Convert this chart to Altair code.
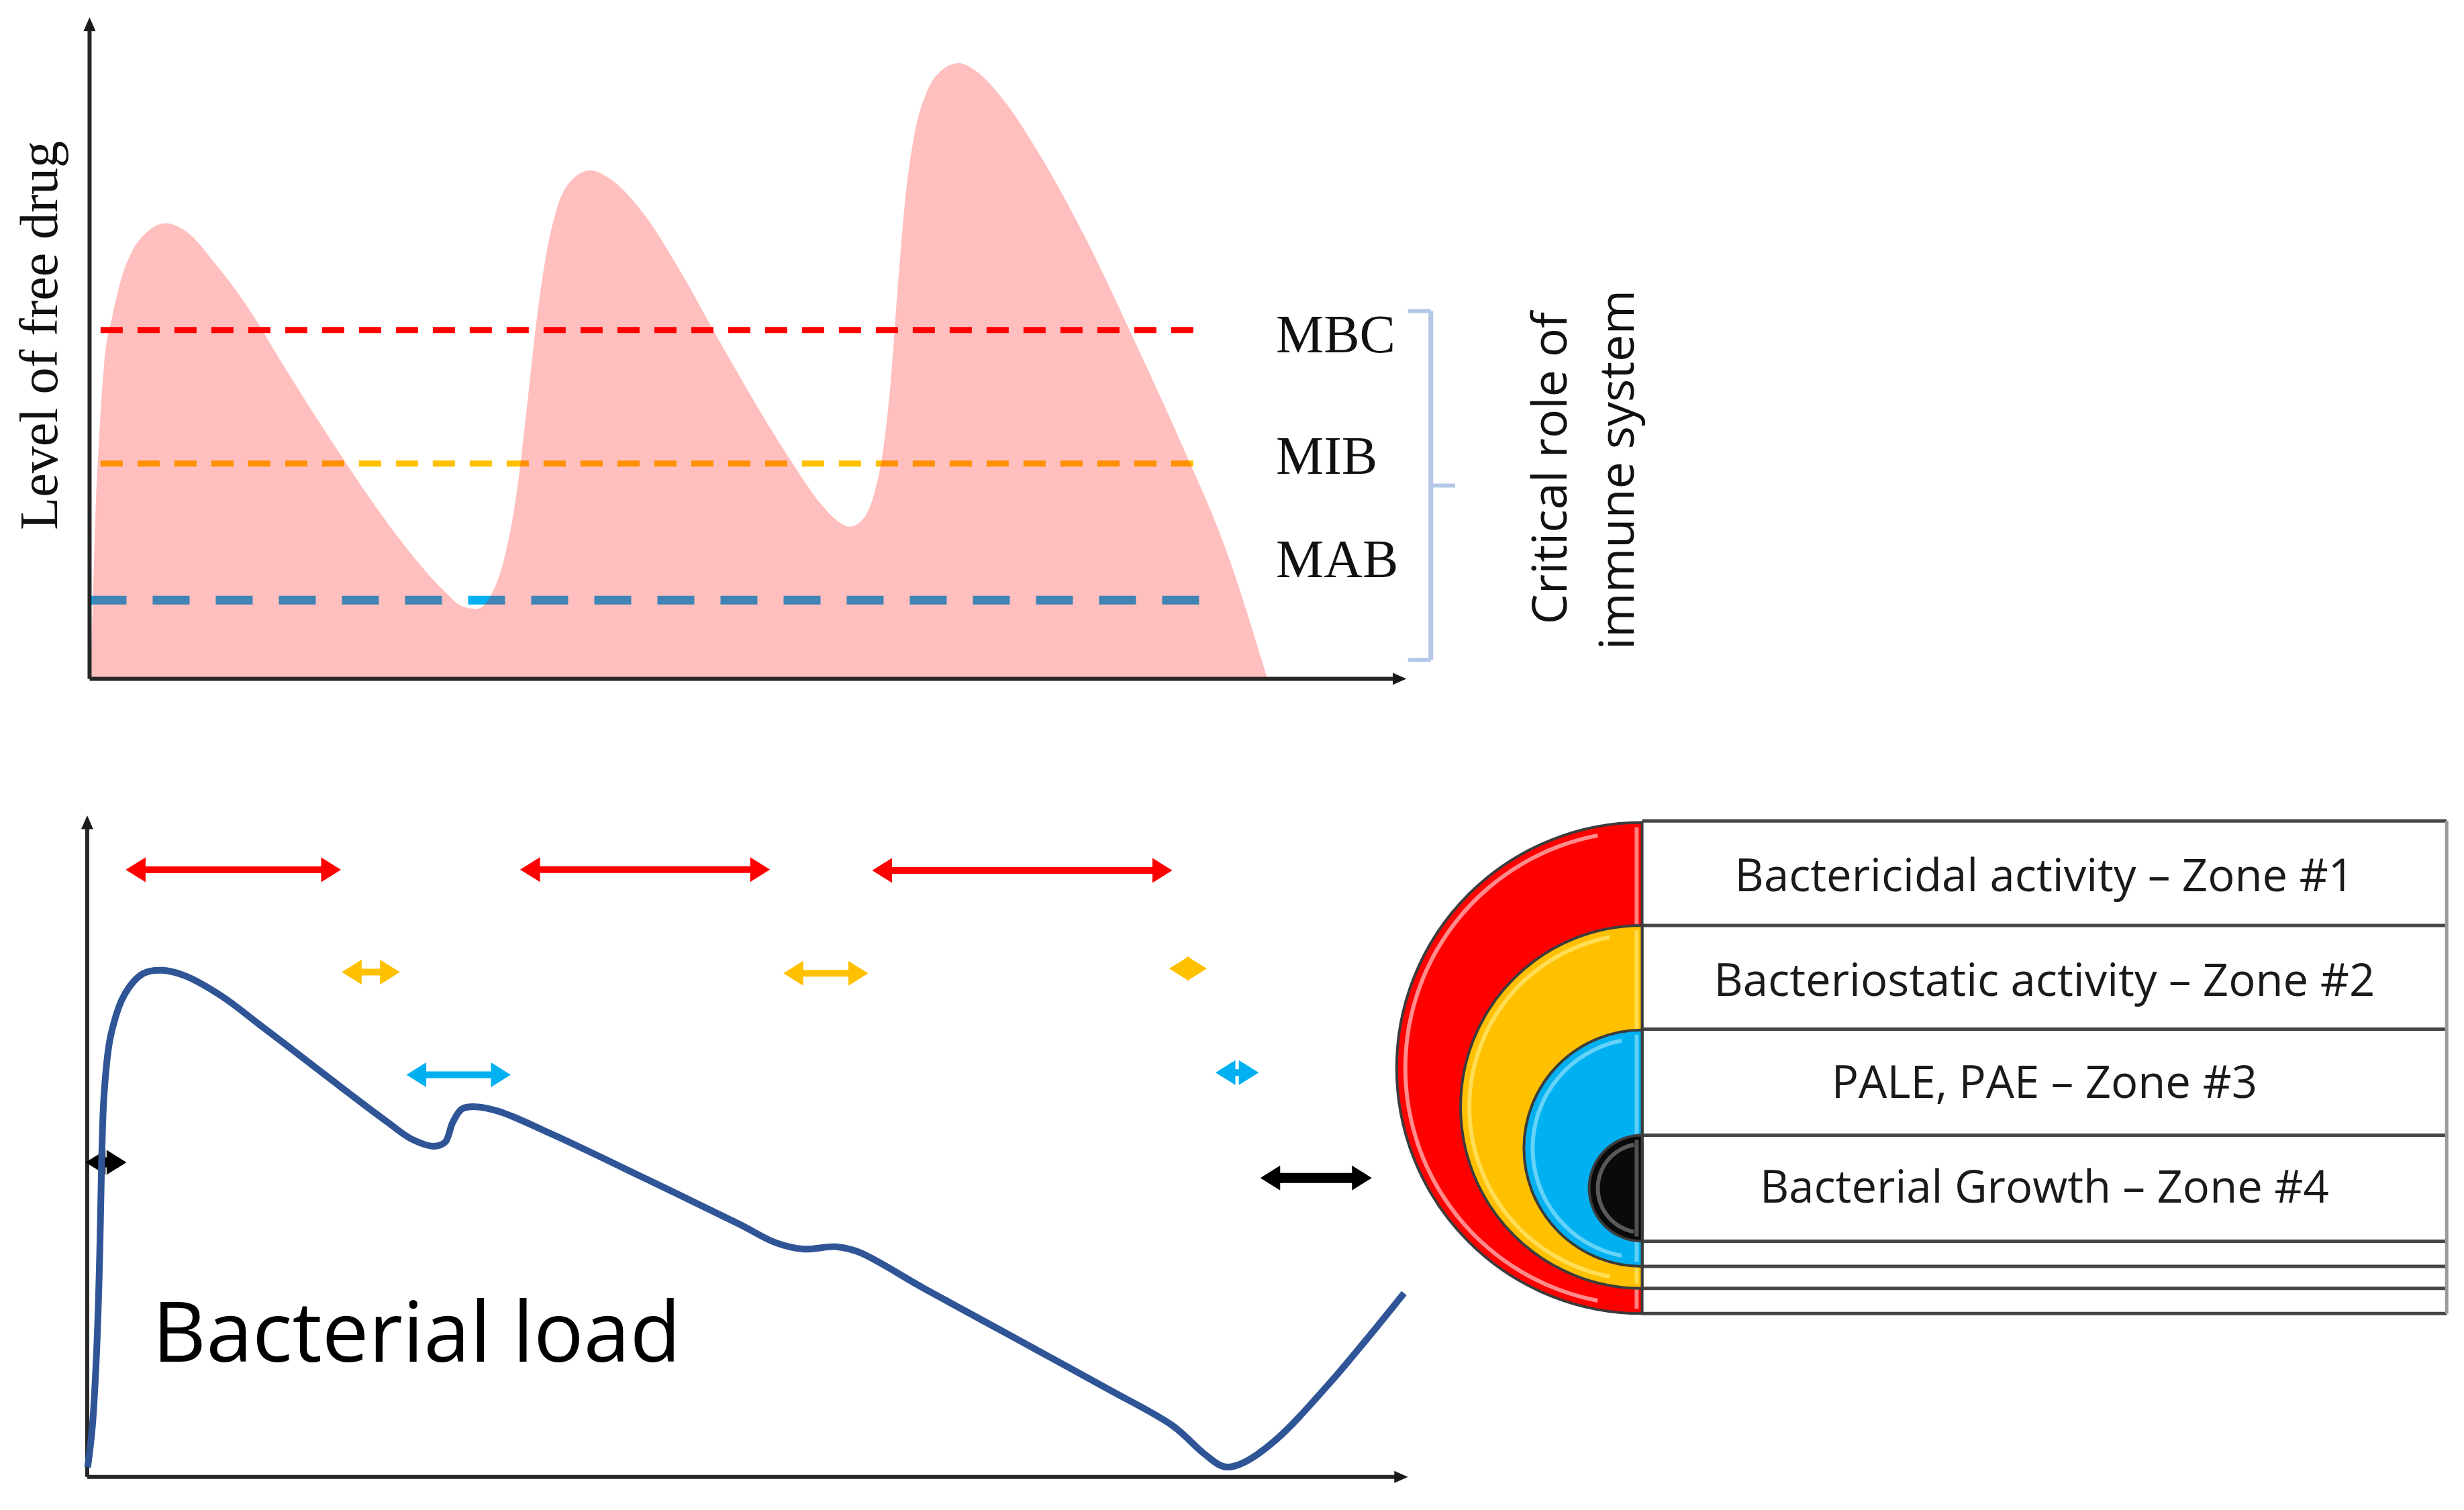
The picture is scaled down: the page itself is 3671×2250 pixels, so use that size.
import math
import altair as alt
import pandas as pd

# ---------------- geometry of the page (reference drawn at 1568 px wide) ----------
S = 3671 / 1568
W, H = 3650, 2225
xs = alt.Scale(domain=[8 / S, (8 + W) / S], nice=False, zero=False)
ys = alt.Scale(domain=[8 / S, (8 + H) / S], nice=False, zero=False, reverse=True)


def X(f):
    return alt.X(f, type="quantitative", scale=xs, axis=None)


def Y(f):
    return alt.Y(f, type="quantitative", scale=ys, axis=None)


# ---------------- data ----------------
# free drug concentration curve (top panel)
drug_x = [57.5, 59.0, 61.0, 63.0, 66.3, 71.3, 77.0, 84.0, 93.2, 105.2, 117.2, 138.2, 159.3,
          180.3, 210.4, 240.4, 264.4, 282.5, 294.5, 303.5, 312.5, 321.5, 329.3, 335.4, 340.8,
          346.8, 354.6, 363.6, 375.6, 387.6, 408.7, 432.7, 456.8, 480.8, 504.8, 522.9, 534.9,
          540.9, 548.1, 555.9, 561.9, 566.7, 571.0, 575.8, 581.8, 589.0, 598.0, 610.0, 622.0,
          637.1, 661.1, 691.1, 721.2, 751.3, 781.3, 806.5]
drug_y = [432.0, 385.0, 320.0, 280.0, 231.0, 202.0, 178.0, 160.0, 148.0, 142.1, 146.4, 169.3,
          198.0, 232.5, 279.8, 324.3, 355.9, 376.0, 386.0, 387.5, 378.8, 353.0, 310.0, 258.3,
          209.5, 166.5, 132.0, 114.8, 108.5, 113.4, 134.9, 172.2, 215.3, 256.9, 295.6, 321.4,
          332.9, 335.2, 331.5, 315.7, 287.0, 244.0, 186.6, 129.2, 86.1, 60.3, 45.9, 40.2, 45.9,
          61.7, 97.6, 152.1, 215.3, 281.3, 353.0, 432.0]
drug_base = 432.0

# thresholds
thr_names = ["MBC", "MIB", "MAB"]
thr_y = [210.0, 295.0, 382.0]
thr_x0 = [64.0, 64.0, 57.0]
thr_x1 = [766.0, 766.0, 772.0]
thr_color = ["#FF0000", "#FFC000", "#00B0F0"]
thr_dash = [[33, 22], [33, 22], [55, 39]]
thr_width = [9, 9, 13]
thr_label_x = [812.0, 812.0, 812.0]
thr_label_y = [224.3, 301.6, 367.3]

# bacterial load curve (bottom panel)
load_x = [55.8, 58.8, 61.7, 63.5, 64.7, 66.4, 70.5, 79.4, 91.1, 102.9, 117.6, 141.1, 165.0,
          195.0, 223.0, 247.0, 262.0, 276.3, 283.3, 288.0, 293.9, 302.7, 317.4, 352.7, 411.5,
          470.2, 493.8, 511.4, 532.0, 546.7, 587.8, 646.6, 705.4, 746.5, 766.0, 779.0, 790.0,
          811.2, 846.4, 893.5]
load_y = [933.9, 907.6, 855.0, 796.5, 738.0, 694.1, 659.0, 632.7, 619.6, 617.5, 621.0, 634.0,
          652.0, 675.0, 696.5, 714.5, 725.0, 729.5, 726.9, 714.6, 705.8, 704.4, 707.3, 722.5,
          750.5, 779.0, 791.0, 795.0, 793.5, 797.0, 819.9, 852.0, 884.2, 907.6, 925.0, 933.5,
          931.5, 917.0, 880.0, 823.0]

# double-headed activity arrows
arr_color = ["#FF0000", "#FF0000", "#FF0000", "#FFC000", "#FFC000", "#FFC000",
             "#00B0F0", "#00B0F0", "#000000", "#000000"]
arr_x0 = [80.0, 331.0, 555.0, 217.5, 498.5, 744.0, 258.6, 773.5, 54.5, 802.0]
arr_x1 = [217.0, 490.0, 746.0, 254.5, 552.5, 768.0, 325.0, 801.0, 80.5, 873.0]
arr_y = [553.6, 553.5, 554.0, 618.7, 619.5, 616.5, 684.0, 682.7, 739.8, 749.7]

# zone legend
zone_labels = ["Bactericidal activity \u2013 Zone #1", "Bacteriostatic activity \u2013 Zone #2",
               "PALE, PAE \u2013 Zone #3", "Bacterial Growth \u2013 Zone #4"]
zone_label_y = [567.3, 634.0, 698.6, 765.3]
zone_color = ["#FF0000", "#FFC000", "#00B0F0", "#0A0A0A"]
zone_gloss = ["#FFFFFF", "#FFF59A", "#B8F0FF", "#9A9A9A"]
zone_top = [523.5, 589.0, 655.5, 722.5]
zone_bottom = [836.0, 820.0, 806.0, 790.0]
table_lines_y = [522.5, 589.0, 655.0, 722.5, 790.0, 806.0, 820.0, 836.0]
table_x0, table_x1 = 1045.0, 1557.0

layers = []

# ---------------- top panel ----------------
for i in range(3):
    d = pd.DataFrame({"x": [thr_x0[i]], "x2": [thr_x1[i]], "y": [thr_y[i]]})
    layers.append(alt.Chart(d).mark_rule(color=thr_color[i], strokeDash=thr_dash[i],
                                         strokeWidth=thr_width[i], strokeCap="butt")
                  .encode(x=X("x"), x2=alt.X2("x2"), y=Y("y")))

drug = pd.DataFrame({"x": drug_x, "y": drug_y, "base": [drug_base] * len(drug_x)})
layers.append(alt.Chart(drug).mark_area(color="#FF0000", opacity=0.25, interpolate="monotone")
              .encode(x=X("x"), y=Y("y"), y2=alt.Y2("base")))

# axes (both panels)
ax_v = pd.DataFrame({"x": [57.0, 55.5], "y": [432.0, 940.0], "y2": [15.0, 524.0]})
ax_h = pd.DataFrame({"x": [57.0, 55.5], "x2": [889.0, 890.0], "y": [432.0, 940.0]})
layers.append(alt.Chart(ax_v).mark_rule(color="#262626", strokeWidth=6)
              .encode(x=X("x"), y=Y("y"), y2=alt.Y2("y2")))
layers.append(alt.Chart(ax_h).mark_rule(color="#262626", strokeWidth=6)
              .encode(x=X("x"), x2=alt.X2("x2"), y=Y("y")))
tip_up = pd.DataFrame({"x": [57.0, 55.5], "y": [11.0, 519.0]})
tip_rt = pd.DataFrame({"x": [895.0, 896.0], "y": [432.0, 940.0]})
layers.append(alt.Chart(tip_up).mark_point(shape="M0,-1L0.75,0.7L-0.75,0.7Z", size=576,
                                           filled=True, opacity=1, color="#1A1A1A", yOffset=12)
              .encode(x=X("x"), y=Y("y")))
layers.append(alt.Chart(tip_rt).mark_point(shape="M1,0L-0.7,-0.75L-0.7,0.75Z", size=576,
                                           filled=True, opacity=1, color="#1A1A1A", xOffset=-12)
              .encode(x=X("x"), y=Y("y")))

ylab = pd.DataFrame({"x": [36.5], "y": [213.5], "t": ["Level of free drug"]})
layers.append(alt.Chart(ylab).mark_text(angle=270, font="Liberation Serif", fontSize=80,
                                        align="center", baseline="alphabetic", color="#111111")
              .encode(x=X("x"), y=Y("y"), text="t:N"))

thr_lab = pd.DataFrame({"x": thr_label_x, "y": thr_label_y, "t": thr_names})
layers.append(alt.Chart(thr_lab).mark_text(font="Liberation Serif", fontSize=80, align="left",
                                           baseline="alphabetic", color="#111111")
              .encode(x=X("x"), y=Y("y"), text="t:N"))

# bracket
br_v = pd.DataFrame({"x": [910.5], "y": [198.0], "y2": [420.0]})
br_h = pd.DataFrame({"x": [896.0, 896.0, 910.5], "x2": [910.5, 910.5, 926.0],
                     "y": [198.0, 420.0, 309.0]})
layers.append(alt.Chart(br_v).mark_rule(color="#B4C7E7", strokeWidth=7)
              .encode(x=X("x"), y=Y("y"), y2=alt.Y2("y2")))
layers.append(alt.Chart(br_h).mark_rule(color="#B4C7E7", strokeWidth=6)
              .encode(x=X("x"), x2=alt.X2("x2"), y=Y("y")))

crit = pd.DataFrame({"x": [997.0, 1039.5], "y": [298.0, 299.0],
                     "t": ["Critical role of", "immune system"]})
layers.append(alt.Chart(crit).mark_text(angle=270, font="Open Sans", fontSize=72,
                                        align="center", baseline="alphabetic", color="#111111")
              .encode(x=X("x"), y=Y("y"), text="t:N"))

# ---------------- bottom panel ----------------
arr = pd.DataFrame({"x0": arr_x0, "x1": arr_x1, "y": arr_y, "c": arr_color})
arr["s0"] = arr["x0"] + 12 / S
arr["s1"] = arr["x1"] - 12 / S
arr["w"] = [15 if c == "#000000" else 10 for c in arr_color]
layers.append(alt.Chart(arr).mark_rule(strokeCap="butt")
              .encode(x=X("s0"), x2=alt.X2("s1"), y=Y("y"),
                      color=alt.Color("c:N", scale=None),
                      strokeWidth=alt.StrokeWidth("w:Q", scale=None)))
layers.append(alt.Chart(arr).mark_point(shape="M-0.8,0L0.8,-1L0.8,1Z", size=1369, filled=True,
                                        opacity=1, xOffset=14.8)
              .encode(x=X("x0"), y=Y("y"), color=alt.Color("c:N", scale=None)))
layers.append(alt.Chart(arr).mark_point(shape="M0.8,0L-0.8,-1L-0.8,1Z", size=1369, filled=True,
                                        opacity=1, xOffset=-14.8)
              .encode(x=X("x1"), y=Y("y"), color=alt.Color("c:N", scale=None)))

load = pd.DataFrame({"x": load_x, "y": load_y})
layers.append(alt.Chart(load).mark_line(color="#2F5597", strokeWidth=10,
                                        interpolate="catmull-rom")
              .encode(x=X("x"), y=Y("y")))

bl = pd.DataFrame({"x": [97.0], "y": [866.7], "t": ["Bacterial load"]})
layers.append(alt.Chart(bl).mark_text(font="Open Sans", fontSize=124, align="left",
                                      baseline="alphabetic", color="#000000")
              .encode(x=X("x"), y=Y("y"), text="t:N"))

# ---------------- zone legend ----------------
tl = pd.DataFrame({"x": [table_x0] * len(table_lines_y), "x2": [table_x1] * len(table_lines_y),
                   "y": table_lines_y})
layers.append(alt.Chart(tl).mark_rule(color="#454545", strokeWidth=5)
              .encode(x=X("x"), x2=alt.X2("x2"), y=Y("y")))
rb = pd.DataFrame({"x": [table_x1], "y": [table_lines_y[0]], "y2": [table_lines_y[-1]]})
layers.append(alt.Chart(rb).mark_rule(color="#9A9A9A", strokeWidth=5)
              .encode(x=X("x"), y=Y("y"), y2=alt.Y2("y2")))

for i in range(4):
    cy = (zone_top[i] + zone_bottom[i]) / 2
    r = (zone_bottom[i] - zone_top[i]) / 2 * S
    d = pd.DataFrame({"x": [table_x0], "y": [cy]})
    layers.append(alt.Chart(d).mark_arc(theta=math.pi, theta2=2 * math.pi, radius=r, radius2=0,
                                        fill=zone_color[i], stroke="#3C3C3C", strokeWidth=4)
                  .encode(x=X("x"), y=Y("y")))
    layers.append(alt.Chart(d).mark_arc(theta=math.pi * 1.06, theta2=math.pi * 1.94,
                                        radius=r - 10, radius2=r - 16, fill=zone_gloss[i],
                                        opacity=0.55)
                  .encode(x=X("x"), y=Y("y")))
    st = pd.DataFrame({"x": [table_x0 - 3.5], "y": [zone_top[i] + 3], "y2": [zone_bottom[i] - 3]})
    layers.append(alt.Chart(st).mark_rule(color=zone_gloss[i], strokeWidth=6, opacity=0.5)
                  .encode(x=X("x"), y=Y("y"), y2=alt.Y2("y2")))

zl = pd.DataFrame({"x": [(table_x0 + table_x1) / 2] * 4, "y": zone_label_y, "t": zone_labels})
layers.append(alt.Chart(zl).mark_text(font="Open Sans", fontSize=67, align="center",
                                      baseline="alphabetic", color="#1A1A1A")
              .encode(x=X("x"), y=Y("y"), text="t:N"))

chart = alt.layer(*layers).properties(
    width=W, height=H, padding=0, background="white",
    autosize=alt.AutoSizeParams(type="none"),
).configure_view(stroke=None)

chart.save("out.html", embed_options={"renderer": "svg", "actions": False})
